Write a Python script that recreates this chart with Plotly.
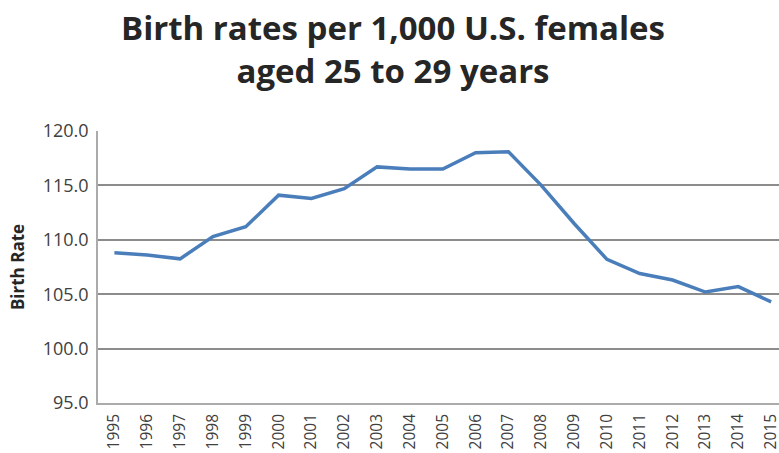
import plotly.graph_objects as go

years = [str(y) for y in range(1995, 2016)]
birth_rate = [108.8, 108.6, 108.25, 110.3, 111.2, 114.1, 113.8, 114.7, 116.7, 116.5,
              116.5, 118.0, 118.1, 115.0, 111.5, 108.2, 106.9, 106.3, 105.2, 105.7, 104.3]
y_ticks = [95, 100, 105, 110, 115, 120]
title_text = "Birth rates per 1,000 U.S. females<br>aged 25 to 29 years"
y_title = "Birth Rate"

fig = go.Figure()
fig.add_trace(go.Scatter(
    x=years, y=birth_rate, mode="lines",
    line=dict(color="#4A7EBB", width=3.5),
))

grid_col = "#8C8C8C"
axis_col = "#ABABAB"
tick_font = dict(family="Open Sans", size=18, color="#404040")
xtick_font = dict(family="Open Sans", size=15.5, color="#404040")

fig.update_layout(
    width=779, height=453,
    paper_bgcolor="white", plot_bgcolor="white",
    margin=dict(l=98, r=0, t=131, b=50),
    showlegend=False,
    title=dict(
        text=title_text,
        font=dict(family="Open Sans", size=33, color="#262626", weight="bold"),
        x=393 / 779, xanchor="center",
        yref="container", y=1 - 40 / 453, yanchor="top",
    ),
    xaxis=dict(
        type="category",
        range=[-0.5, 20.24],
        tickangle=-90,
        tickfont=xtick_font,
        showgrid=False,
        showline=True, linecolor=axis_col, linewidth=1.5,
        ticks="", ticklabelstandoff=3,
        automargin=False,
    ),
    yaxis=dict(
        range=[95, 120],
        tickvals=y_ticks,
        tickformat=".1f",
        tickfont=tick_font,
        showgrid=True, gridcolor=grid_col, gridwidth=1.5,
        showline=True, linecolor=axis_col, linewidth=1.5,
        zeroline=False,
        ticks="", ticklabelstandoff=4,
        title=dict(text=y_title, font=dict(family="Open Sans", size=17, color="#262626", weight="bold"), standoff=14),
        automargin=False,
    ),
)

fig.write_html("out.html", config={"displayModeBar": False},
               post_script="document.body.style.margin='0';document.body.style.overflow='hidden';")
